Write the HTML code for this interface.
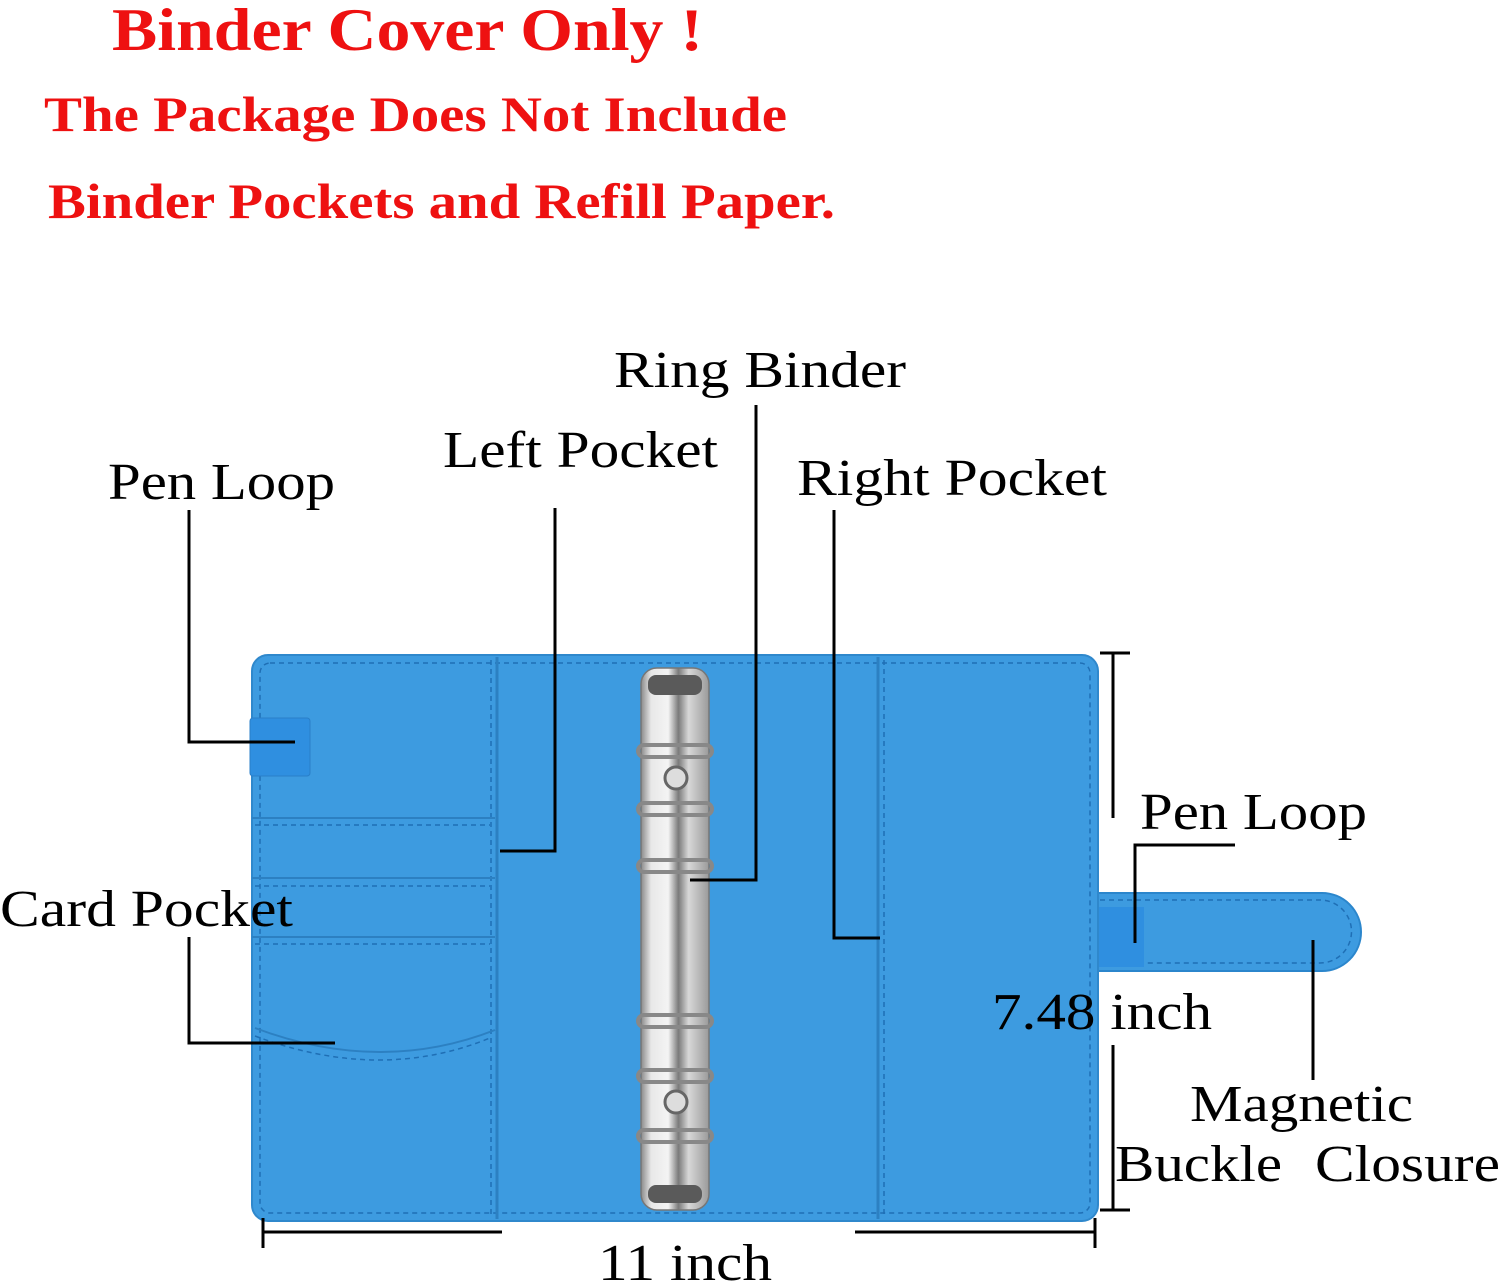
<!DOCTYPE html>
<html><head><meta charset="utf-8"><style>
html,body{margin:0;padding:0;background:#fff;width:1500px;height:1285px;overflow:hidden}
svg text{font-family:"Liberation Serif",serif}
</style></head><body>
<svg width="1500" height="1285" viewBox="0 0 1500 1285" xmlns="http://www.w3.org/2000/svg">
<defs>
<linearGradient id="metal" x1="0" x2="1" y1="0" y2="0">
<stop offset="0" stop-color="#8a8a8a"/><stop offset="0.15" stop-color="#e8e8e8"/><stop offset="0.4" stop-color="#f4f4f4"/><stop offset="0.55" stop-color="#7a7a7a"/><stop offset="0.7" stop-color="#d8d8d8"/><stop offset="1" stop-color="#9a9a9a"/>
</linearGradient>
</defs>
<g fill="#ee1111" font-weight="bold">
<text x="112" y="50" font-size="60" textLength="591" lengthAdjust="spacingAndGlyphs">Binder Cover Only !</text>
<text x="44" y="131" font-size="50" textLength="743" lengthAdjust="spacingAndGlyphs">The Package Does Not Include</text>
<text x="48" y="218" font-size="50" textLength="787" lengthAdjust="spacingAndGlyphs">Binder Pockets and Refill Paper.</text>
</g>
<!-- strap -->
<path d="M1090 893 H1322 A39 39 0 0 1 1322 971 H1090 Z" fill="#3d9be0" stroke="#2b86cc" stroke-width="2"/>
<path d="M1100 900 H1320 A31 31 0 0 1 1320 963 H1100" fill="none" stroke="#1f6fb5" stroke-width="1.5" stroke-dasharray="5 4"/>
<rect x="1098" y="907" width="46" height="60" fill="#2f8fe0"/>
<!-- binder body -->
<rect x="252" y="655" width="846" height="566" rx="16" fill="#3d9be0" stroke="#2f88cc" stroke-width="2"/>
<rect x="260" y="663" width="830" height="550" rx="10" fill="none" stroke="#1f6fb5" stroke-width="1.5" stroke-dasharray="5 4"/>
<line x1="497" y1="657" x2="497" y2="1219" stroke="#2c80c2" stroke-width="3"/>
<line x1="491" y1="660" x2="491" y2="1215" stroke="#1f6fb5" stroke-width="1.5" stroke-dasharray="5 4"/>
<line x1="878" y1="657" x2="878" y2="1219" stroke="#2c80c2" stroke-width="3"/>
<line x1="884" y1="660" x2="884" y2="1215" stroke="#1f6fb5" stroke-width="1.5" stroke-dasharray="5 4"/>
<g stroke="#2c80c2" stroke-width="2" fill="none">
<line x1="252" y1="818" x2="495" y2="818"/><line x1="252" y1="878" x2="495" y2="878"/><line x1="252" y1="937" x2="495" y2="937"/>
<path d="M255 1028 Q380 1075 495 1030"/>
</g>
<g stroke="#1f6fb5" stroke-width="1.5" fill="none" stroke-dasharray="5 4">
<line x1="255" y1="825" x2="490" y2="825"/><line x1="255" y1="886" x2="490" y2="886"/><line x1="255" y1="944" x2="490" y2="944"/>
<path d="M255 1036 Q380 1083 490 1038"/>
</g>
<rect x="250" y="718" width="60" height="58" rx="3" fill="#2f8fe0" stroke="#2a7fc8"/>
<!-- ring binder -->
<rect x="641" y="668" width="68" height="542" rx="16" fill="url(#metal)" stroke="#777" stroke-width="1.5"/>
<rect x="648" y="675" width="54" height="20" rx="8" fill="#5a5a5a"/>
<rect x="648" y="1185" width="54" height="18" rx="8" fill="#5a5a5a"/>
<g fill="none" stroke="#888" stroke-width="4">
<rect x="638" y="745" width="74" height="12" rx="6"/><rect x="638" y="803" width="74" height="12" rx="6"/><rect x="638" y="860" width="74" height="12" rx="6"/>
<rect x="638" y="1015" width="74" height="12" rx="6"/><rect x="638" y="1070" width="74" height="12" rx="6"/><rect x="638" y="1130" width="74" height="12" rx="6"/>
</g>
<circle cx="676" cy="778" r="11" fill="#ddd" stroke="#666" stroke-width="3"/>
<circle cx="676" cy="1102" r="11" fill="#ddd" stroke="#666" stroke-width="3"/>
<!-- leader lines -->
<g stroke="#000" stroke-width="3" fill="none">
<polyline points="189,510 189,742 295,742"/>
<polyline points="555,508 555,851 500,851"/>
<polyline points="756,405 756,880 690,880"/>
<polyline points="834,510 834,938 880,938"/>
<polyline points="1235,845 1135,845 1135,943"/>
<polyline points="189,937 189,1043 335,1043"/>
<line x1="1313" y1="940" x2="1313" y2="1080"/>
<line x1="1113" y1="653" x2="1113" y2="818"/><line x1="1113" y1="1045" x2="1113" y2="1210"/>
<line x1="1100" y1="653" x2="1130" y2="653"/><line x1="1100" y1="1210" x2="1130" y2="1210"/>
<line x1="263" y1="1232" x2="502" y2="1232"/><line x1="855" y1="1232" x2="1095" y2="1232"/>
<line x1="263" y1="1218" x2="263" y2="1248"/><line x1="1095" y1="1218" x2="1095" y2="1248"/>
</g>
<g fill="#000" font-size="52" lengthAdjust="spacingAndGlyphs">
<text x="614" y="387" textLength="292" lengthAdjust="spacingAndGlyphs">Ring Binder</text>
<text x="443" y="467" textLength="275" lengthAdjust="spacingAndGlyphs">Left Pocket</text>
<text x="108" y="499" textLength="227" lengthAdjust="spacingAndGlyphs">Pen Loop</text>
<text x="797" y="495" textLength="310" lengthAdjust="spacingAndGlyphs">Right Pocket</text>
<text x="1140" y="829" textLength="227" lengthAdjust="spacingAndGlyphs">Pen Loop</text>
<text x="0" y="926" textLength="293" lengthAdjust="spacingAndGlyphs">Card Pocket</text>
<text x="992" y="1029" textLength="220" lengthAdjust="spacingAndGlyphs">7.48 inch</text>
<text x="1190" y="1121" textLength="223" lengthAdjust="spacingAndGlyphs">Magnetic</text>
<text x="1115" y="1181" textLength="167" lengthAdjust="spacingAndGlyphs">Buckle</text>
<text x="1315" y="1181" textLength="185" lengthAdjust="spacingAndGlyphs">Closure</text>
<text x="598" y="1280" textLength="174" lengthAdjust="spacingAndGlyphs">11 inch</text>
</g>
</svg>
</body></html>
